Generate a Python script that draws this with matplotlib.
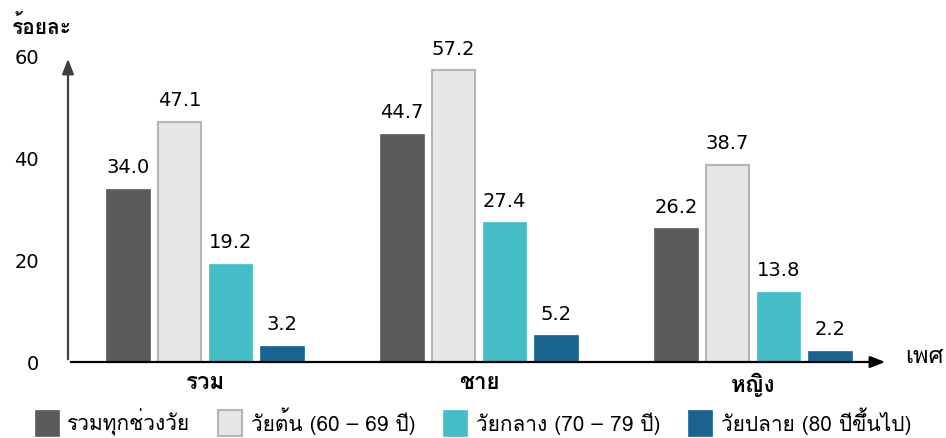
import matplotlib
matplotlib.use("Agg")
import matplotlib.pyplot as plt
import numpy as np
from matplotlib.patches import Patch

plt.rcParams['font.family'] = ['Loma', 'DejaVu Sans']
num_font = "DejaVu Sans"

# data
groups = ["รวม", "ชาย", "หญิง"]
series = ["รวมทุกช่วงวัย", "วัยต้น (60 – 69 ปี)", "วัยกลาง (70 – 79 ปี)", "วัยปลาย (80 ปีขึ้นไป)"]
total = [34.0, 44.7, 26.2]
early = [47.1, 57.2, 38.7]
middle = [19.2, 27.4, 13.8]
late = [3.2, 5.2, 2.2]
yticks = [0, 20, 40, 60]

colors = ["#5b5b5b", "#e7e7e7", "#44bdc6", "#1a6491"]
edges = ["#5b5b5b", "#b5b5b5", "#44bdc6", "#1a6491"]

fig = plt.figure(figsize=(9.46, 4.39), dpi=100)
ax = fig.add_axes([68 / 946, 1 - 363 / 439, (888 - 68) / 946, (363 - 57) / 439])

x = np.arange(len(groups))
pitch = 0.187
width = 0.159
for i, vals in enumerate([total, early, middle, late]):
    pos = x + (i - 1.5) * pitch
    ax.bar(pos, vals, width, color=colors[i], edgecolor=edges[i],
           linewidth=1.5 if i == 1 else 0.5, zorder=2)
    for xp, v in zip(pos, vals):
        ax.annotate(f"{v:.1f}", (xp, v), xytext=(0, 12), textcoords="offset points",
                    ha="center", va="baseline", fontsize=14, family=num_font)

ax.set_xlim(-0.5, 2.493)
ax.set_ylim(0, 60)
for s in ax.spines.values():
    s.set_visible(False)

# axis arrows
ax.annotate("", xy=(1, 0), xytext=(0, 0), xycoords="axes fraction",
            arrowprops=dict(arrowstyle="-|>,head_length=0.9,head_width=0.35", color="black", lw=1.6),
            zorder=3)
ax.annotate("", xy=(0, 1), xytext=(0, 0), xycoords="axes fraction",
            arrowprops=dict(arrowstyle="-|>,head_length=0.9,head_width=0.35", color="#404040", lw=1.6),
            zorder=3)

ax.set_yticks(yticks)
ax.set_yticklabels([str(t) for t in yticks], fontsize=14, family=num_font)
ax.tick_params(axis="y", length=0, pad=21)
ax.set_xticks(x)
ax.set_xticklabels(groups, fontsize=16, fontweight="bold")
ax.tick_params(axis="x", length=0, pad=7)

fig.text(12 / 946, 1 - 26 / 439, "ร้อยละ", fontsize=15, fontweight="bold", va="center", ha="left")
fig.text(905 / 946, 1 - 357 / 439, "เพศ", fontsize=17, va="center", ha="left")

handles = [Patch(facecolor=colors[i], edgecolor=edges[i], linewidth=1.5 if i == 1 else 0.5)
           for i in range(4)]
fig.legend(handles, series, loc="center", bbox_to_anchor=(473 / 946, 1 - 422 / 439),
           ncol=4, frameon=False, prop={"size": 15},
           handlelength=1.15, handleheight=1.5, handletextpad=0.4, columnspacing=1.35)

fig.savefig("out.png", dpi=100)
